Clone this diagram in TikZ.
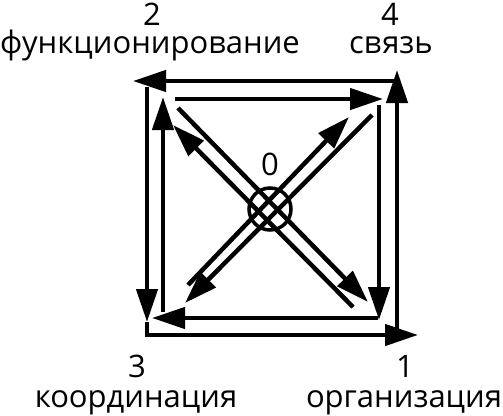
\documentclass[tikz,border=0pt]{standalone}
\usepackage{fontspec}
\setmainfont{Open Sans}
\usetikzlibrary{arrows.meta}
\begin{document}
\begin{tikzpicture}[x=1pt,y=-1pt,
  ln/.style={line width=4.5pt},
  arr/.style={ln,-{Triangle[length=33pt,width=21pt]}},
  lbl/.style={anchor=base,inner sep=0pt,font=\fontsize{31}{36}\selectfont}]
\useasboundingbox (0,0) rectangle (503,415);
% outer square
\coordinate (oTopS) at (397,81);
\coordinate (oTopE) at (133,81);
\coordinate (oLeftS) at (147,87);
\coordinate (oLeftE) at (147,322);
\coordinate (oBotC) at (147,335);
\coordinate (oBotE) at (418,335);
\coordinate (oRightS) at (397,337);
\coordinate (oRightE) at (397,70);
\draw[arr] (oTopS) -- (oTopE);
\draw[arr] (oLeftS) -- (oLeftE);
\draw[arr] (oLeftE) -- (oBotC) -- (oBotE);
\draw[arr] (oRightS) -- (oRightE);
% inner square
\coordinate (iTopS) at (175,99);
\coordinate (iTopE) at (383,99);
\coordinate (iRightS) at (379,105);
\coordinate (iRightE) at (379,320);
\coordinate (iBotS) at (378,318);
\coordinate (iBotE) at (152,318);
\coordinate (iLeftS) at (163,312);
\coordinate (iLeftE) at (163,97);
\draw[arr] (iTopS) -- (iTopE);
\draw[arr] (iRightS) -- (iRightE);
\draw[arr] (iBotS) -- (iBotE);
\draw[arr] (iLeftS) -- (iLeftE);
% diagonals
\coordinate (d1S) at (178,108);
\coordinate (d1E) at (368,302);
\coordinate (d2S) at (353,307);
\coordinate (d2E) at (173,125);
\coordinate (d3S) at (188,285);
\coordinate (d3E) at (349,117);
\coordinate (d4S) at (372,115);
\coordinate (d4E) at (185,303);
\draw[arr] (d1S) -- (d1E);
\draw[arr] (d2S) -- (d2E);
\draw[arr] (d3S) -- (d3E);
\draw[arr] (d4S) -- (d4E);
% centre circle
\node[draw,circle,line width=3.5pt,minimum size=42pt,inner sep=0pt] (c) at (270,209) {};
\node[lbl] (n0) at (270,175) {0};
% labels
\node[lbl] (n2) at (152,25) {2};
\node[lbl] (t2) at (150,53) {функционирование};
\node[lbl] (n4) at (390,25) {4};
\node[lbl] (t4) at (391,53) {связь};
\node[lbl] (n3) at (137,377) {3};
\node[lbl] (t3) at (136,407) {координация};
\node[lbl] (n1) at (405,377) {1};
\node[lbl] (t1) at (404,407) {организация};
\end{tikzpicture}
\end{document}
